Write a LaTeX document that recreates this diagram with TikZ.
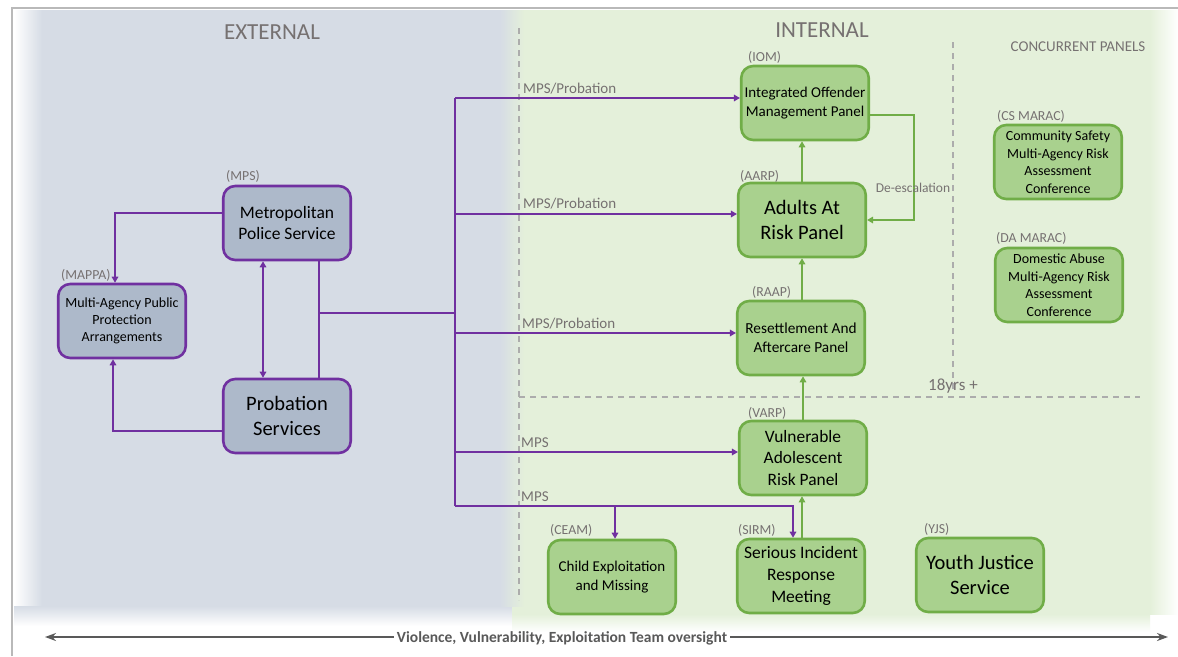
\documentclass[tikz,border=0pt]{standalone}
\usepackage{fontspec}
\setmainfont{Carlito}
\usetikzlibrary{arrows.meta}
\definecolor{purp}{RGB}{112,48,160}
\definecolor{pfill}{RGB}{173,185,202}
\definecolor{gfill}{RGB}{169,209,142}
\definecolor{gline}{RGB}{112,173,71}
\definecolor{extbg}{RGB}{214,220,229}
\definecolor{intbg}{RGB}{228,240,218}
\definecolor{txtgray}{RGB}{118,113,113}
\definecolor{arrgray}{RGB}{89,89,89}
\newcommand\setfs[2]{\fontsize{#1}{#2}\selectfont}
\tikzset{
 pbox/.style={draw=purp, fill=pfill, line width=2.6pt, rounded corners=12pt, minimum width=127.5pt, minimum height=74pt, align=center, inner sep=2pt, text=black},
 gbox/.style={draw=gline, fill=gfill, line width=2.6pt, rounded corners=12pt, minimum width=127.5pt, minimum height=74pt, align=center, inner sep=2pt, text=black},
 abbr/.style={text=txtgray, font=\setfs{13.8}{15}, inner sep=0pt, anchor=base west},
 plink/.style={draw=purp, line width=1.6pt},
 glink/.style={draw=gline, line width=1.6pt},
 ptip/.style={-{Triangle[length=6pt,width=6.5pt]}},
 flowlbl/.style={text=txtgray, font=\setfs{15}{17}, inner sep=0pt, anchor=base west},
 divider/.style={draw=gray!65, line width=1.1pt, dash pattern=on 6pt off 5pt},
}
\begin{document}
\begin{tikzpicture}[x=1pt,y=-1pt]
\useasboundingbox (0,0) rectangle (1178,656);
% backgrounds
\fill[white] (0,0) rectangle (1178,656);
\fill[extbg] (14,10) rectangle (512,606);
\shade[left color=white,right color=extbg] (14,10) rectangle (42,606);
\shade[top color=extbg,bottom color=white] (14,606) rectangle (512,626);
\fill[intbg] (512,10) rectangle (1150,614);
\shade[left color=intbg,right color=white] (1150,10) rectangle (1178,614);
\shade[top color=intbg,bottom color=white] (512,614) rectangle (1150,632);
\shade[left color=extbg,right color=intbg] (500,10) rectangle (524,606);
% frame
\draw[gray!55, line width=1.2pt] (12,656) -- (12,8) -- (1178,8);
% dividers
\coordinate (d1a) at (519,28); \coordinate (d1b) at (519,600);
\coordinate (d2a) at (953,42); \coordinate (d2b) at (953,392);
\coordinate (d3a) at (519,397); \coordinate (d3b) at (1140,397);
\draw[divider] (d1a) -- (d1b);
\draw[divider] (d2a) -- (d2b);
\draw[divider] (d3a) -- (d3b);
% headings
\node[text=txtgray, font=\setfs{23}{26}] (hext) at (272,32) {EXTERNAL};
\node[text=txtgray, font=\setfs{23}{26}] (hint) at (822,30) {INTERNAL};
\node[text=txtgray, font=\setfs{15}{17}] (hconc) at (1078,47) {CONCURRENT PANELS};
\node[text=txtgray, font=\setfs{17}{19}, anchor=base west, inner sep=0pt] (h18) at (928,390) {18yrs +};
% external nodes
\node[pbox, font=\setfs{17.5}{21}] (mps) at (287,223) {Metropolitan\\Police Service};
\node[pbox, font=\setfs{20.5}{25}] (prob) at (287,416) {Probation\\Services};
\node[pbox, font=\setfs{14}{17}] (mappa) at (122,321) {Multi-Agency Public\\Protection\\Arrangements};
\node[abbr] (lmps) at (226,180) {(MPS)};
\node[abbr] (lmappa) at (61,279) {(MAPPA)};
% internal nodes
\node[gbox, font=\setfs{15}{19}] (iom) at (805,103) {Integrated Offender\\Management Panel};
\node[gbox, font=\setfs{20.5}{25}] (aarp) at (802,220) {Adults At\\Risk Panel};
\node[gbox, font=\setfs{15.3}{19}] (raap) at (801,338) {Resettlement And\\Aftercare Panel};
\node[gbox, font=\setfs{17.4}{21.5}] (varp) at (803,458) {Vulnerable\\Adolescent\\Risk Panel};
\node[gbox, font=\setfs{15}{19}] (ceam) at (612,577) {Child Exploitation\\and Missing};
\node[gbox, font=\setfs{17.5}{22}] (sirm) at (801,576) {Serious Incident\\Response\\Meeting};
\node[gbox, font=\setfs{20.5}{25}] (yjs) at (980,575) {Youth Justice\\Service};
\node[gbox, font=\setfs{14}{17.5}] (cs) at (1058,162) {Community Safety\\Multi-Agency Risk\\Assessment\\Conference};
\node[gbox, font=\setfs{14}{17.5}] (da) at (1059,285) {Domestic Abuse\\Multi-Agency Risk\\Assessment\\Conference};
\node[abbr] (liom) at (748,61) {(IOM)};
\node[abbr] (laarp) at (740,180) {(AARP)};
\node[abbr] (lraap) at (752,296) {(RAAP)};
\node[abbr] (lvarp) at (748,417) {(VARP)};
\node[abbr] (lceam) at (550,534) {(CEAM)};
\node[abbr] (lsirm) at (738,534) {(SIRM)};
\node[abbr] (lyjs) at (924,533) {(YJS)};
\node[abbr] (lcs) at (997,120) {(CS MARAC)};
\node[abbr] (lda) at (996,242) {(DA MARAC)};
% external links
\draw[plink, ptip] ([yshift=10pt]mps.west) -| ([xshift=-7pt]mappa.north);
\draw[plink, ptip] ([yshift=-15pt]prob.west) -| ([xshift=-9pt]mappa.south);
\draw[plink, {Triangle[length=6pt,width=6.5pt]}-{Triangle[length=6pt,width=6.5pt]}] ([xshift=-24pt]mps.south) -- ([xshift=-24pt]prob.north);
\draw[plink] ([xshift=32pt]mps.south) -- ([xshift=32pt]prob.north);
\coordinate (j) at (319,313);
\coordinate (tj) at (455,313);
\coordinate (t1) at (455,98);
\coordinate (t2) at (455,214);
\coordinate (t3) at (455,333);
\coordinate (t4) at (455,452);
\coordinate (t5) at (455,506);
\coordinate (cj) at (615,506);
\draw[plink] (j) -- (tj);
\draw[plink] (t1) -- (t5);
\draw[plink, ptip] (t1) -- (iom.west |- t1);
\draw[plink, ptip] (t2) -- (aarp.west |- t2);
\draw[plink, ptip] (t3) -- (raap.west |- t3);
\draw[plink, ptip] (t4) -- (varp.west |- t4);
\draw[plink, ptip] (t5) -| ([xshift=-8pt]sirm.north);
\draw[plink, ptip] (cj) -- ([xshift=3pt]ceam.north);
\node[flowlbl] (f1) at (523,93) {MPS/Probation};
\node[flowlbl] (f2) at (523,208) {MPS/Probation};
\node[flowlbl] (f3) at (522,328) {MPS/Probation};
\node[flowlbl] (f4) at (521,447) {MPS};
\node[flowlbl] (f5) at (521,501) {MPS};
% internal links
\draw[glink, ptip] (aarp.north) -- (aarp.north |- iom.south);
\draw[glink, ptip] ([xshift=1pt]raap.north) -- ([xshift=1pt]raap.north |- aarp.south);
\draw[glink, ptip] (varp.north) -- (varp.north |- raap.south);
\draw[glink, line width=1.1pt, ptip] ([xshift=1pt]sirm.north) -- ([xshift=1pt]sirm.north |- varp.south);
\draw[glink, ptip] ([yshift=-12pt]iom.east) -- ++(44,0) |- (aarp.east);
\node[text=txtgray, font=\setfs{13.5}{15}] (desc) at (913,188) {De-escalation};
% bottom oversight arrow
\node[text=arrgray, font=\bfseries\setfs{15.5}{17}, inner sep=3pt] (ov) at (562,638) {Violence, Vulnerability, Exploitation Team oversight};
\coordinate (ovl) at (45,637);
\coordinate (ovr) at (1168,637);
\draw[arrgray, line width=2.8pt, -{Stealth[length=11pt,width=8pt]}] (ov.west |- ovl) -- (ovl);
\draw[arrgray, line width=2.8pt, -{Stealth[length=11pt,width=8pt]}] (ov.east |- ovr) -- (ovr);
\end{tikzpicture}
\end{document}
